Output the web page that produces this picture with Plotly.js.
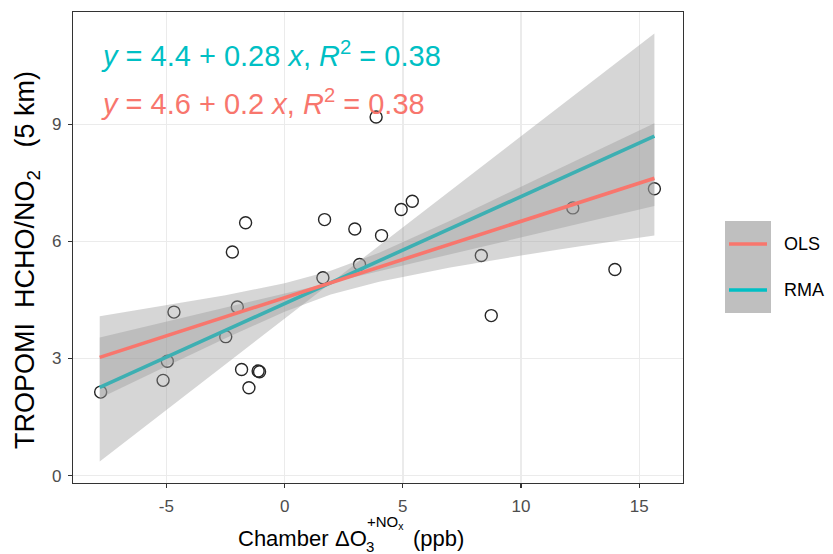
<!DOCTYPE html>
<html>
<head>
<meta charset="utf-8">
<script src="https://cdn.plot.ly/plotly-3.0.1.min.js"></script>
<style>html,body{margin:0;padding:0;background:#fff;}#chart{width:833px;height:554px;}</style>
</head>
<body>
<div id="chart"></div>
<script>
// ---- data ----
const pointX = [-7.78, -5.14, -4.96, -4.68, -2.49, -2.21, -2.00, -1.82, -1.65, -1.51, -1.12, -1.06,
                1.62, 1.69, 2.97, 3.17, 3.87, 4.10, 4.93, 5.40, 8.32, 8.74, 12.19, 13.97, 15.64];
const pointY = [2.14, 2.44, 2.93, 4.19, 3.56, 5.73, 4.32, 2.72, 6.48, 2.25, 2.68, 2.66,
                5.07, 6.56, 6.32, 5.41, 9.19, 6.15, 6.82, 7.03, 5.64, 4.10, 6.86, 5.28, 7.35];

const olsLineX = [-7.82, 15.64];
const olsLineY = [3.03, 7.62];
const rmaLineX = [-7.82, 15.64];
const rmaLineY = [2.26, 8.70];

const olsBandX = [-7.82, -5, -2.5, 0, 1.95, 4, 7, 10, 12.5, 15.64];
const olsBandLower = [1.98, 2.80, 3.52, 4.20, 4.64, 4.97, 5.33, 5.64, 5.88, 6.15];
const olsBandUpper = [4.08, 4.36, 4.62, 4.93, 5.25, 5.71, 6.53, 7.40, 8.13, 9.03];

const rmaBandX = [-7.82, 1.98, 15.64];
const rmaBandLower = [0.36, 4.95, 6.91];
const rmaBandUpper = [3.54, 4.95, 11.33];

const xTicks = [-5, 0, 5, 10, 15];
const yTicks = [0, 3, 6, 9];

const seriesNames = ['OLS', 'RMA'];
const eqOLS = '<i>y</i> = 4.6 + 0.2 <i>x</i>, <i>R</i><sup>2</sup> = 0.38';
const eqRMA = '<i>y</i> = 4.4 + 0.28 <i>x</i>, <i>R</i><sup>2</sup> = 0.38';
const NB = '\u00A0';
const yTitle = 'TROPOMI' + NB + ' HCHO/NO<sub>2</sub>' + NB + NB + NB + '(5 km)';

// ---- styling ----
const OLS_COL = '#F8766D';
const RMA_COL = '#00BFC4';
const BAND_FILL = 'rgba(153,153,153,0.4)';
const FONT = 'Liberation Sans, Arial, Helvetica, sans-serif';

// plot area in pixels
const L = 73, R = 683, T = 12, B = 483, W = 833, H = 554;
const px = v => (v - L) / (R - L);
const py = v => (B - v) / (B - T);

function band(xs, lo, hi) {
  return {
    x: xs.concat(xs.slice().reverse()),
    y: hi.concat(lo.slice().reverse()),
    type: 'scatter', mode: 'lines', fill: 'toself',
    fillcolor: BAND_FILL, line: {width: 0}, hoverinfo: 'skip', showlegend: false
  };
}

const traces = [
  {x: pointX, y: pointY, type: 'scatter', mode: 'markers', showlegend: false,
   marker: {symbol: 'circle-open', size: 12, color: '#262626', line: {width: 1.4}}},
  band(rmaBandX, rmaBandLower, rmaBandUpper),
  {x: rmaLineX, y: rmaLineY, type: 'scatter', mode: 'lines', showlegend: false,
   line: {color: RMA_COL, width: 3.6}},
  band(olsBandX, olsBandLower, olsBandUpper),
  {x: olsLineX, y: olsLineY, type: 'scatter', mode: 'lines', showlegend: false,
   line: {color: OLS_COL, width: 3.6}}
];

const ann = [];
function A(text, xpx, ypx, size, color, xanchor, extra) {
  ann.push(Object.assign({text: text, xref: 'paper', yref: 'paper', x: px(xpx), y: py(ypx),
    xanchor: xanchor || 'left', yanchor: 'middle', showarrow: false,
    font: {family: FONT, size: size, color: color || '#000'}}, extra || {}));
}
A(eqRMA, 99, 54, 29, RMA_COL);
A(eqOLS, 99, 102, 29, OLS_COL);
// y-axis title
A(yTitle, 27, 260, 27, '#000', 'center', {textangle: -90});
// x-axis title
A('Chamber', 236, 538, 22, '#000', 'left');
A('ΔO', 333, 538, 22, '#000', 'left');
A('3', 364, 546, 15, '#000', 'left');
A('+NO<sub>x</sub>', 365, 522, 15, '#000', 'left');
A('(ppb)', 438, 538, 22, '#000', 'center');
// legend labels
A(seriesNames[0], 782, 244, 18, '#000', 'left');
A(seriesNames[1], 782, 290, 18, '#000', 'left');

const shapes = [
  {type: 'rect', xref: 'paper', yref: 'paper', x0: px(725), x1: px(771), y0: py(221), y1: py(313),
   fillcolor: '#bfbfbf', line: {width: 0}},
  {type: 'line', xref: 'paper', yref: 'paper', x0: px(729), x1: px(767), y0: py(244), y1: py(244),
   line: {color: OLS_COL, width: 3.6}},
  {type: 'line', xref: 'paper', yref: 'paper', x0: px(729), x1: px(767), y0: py(290), y1: py(290),
   line: {color: RMA_COL, width: 3.6}}
];

const axisCommon = {
  showgrid: true, gridcolor: '#ebebeb', gridwidth: 1.5, zeroline: false,
  ticks: 'outside', ticklen: 4, tickwidth: 1.1, tickcolor: '#333', ticklabelstandoff: 3,
  tickfont: {size: 17, color: '#4d4d4d', family: FONT},
  showline: true, linecolor: '#333', linewidth: 1.2, mirror: true
};

const layout = {
  width: W, height: H,
  margin: {l: L, r: W - R, t: T, b: H - B, pad: 0},
  paper_bgcolor: '#fff', plot_bgcolor: '#fff',
  showlegend: false,
  font: {family: FONT},
  xaxis: Object.assign({range: [-8.95, 16.85], tickvals: xTicks, ticktext: xTicks.map(String)}, axisCommon),
  yaxis: Object.assign({range: [-0.19, 11.88], tickvals: yTicks, ticktext: yTicks.map(String)}, axisCommon),
  annotations: ann,
  shapes: shapes
};

Plotly.newPlot('chart', traces, layout, {staticPlot: true, displayModeBar: false});
</script>
</body>
</html>
